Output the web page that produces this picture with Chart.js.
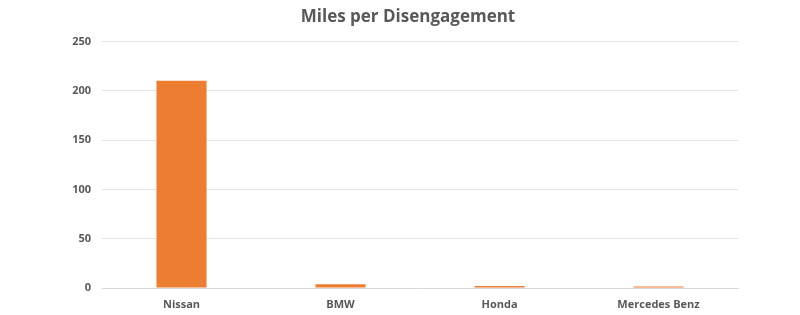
<!DOCTYPE html>
<html>
<head>
<meta charset="utf-8">
<script src="https://cdn.jsdelivr.net/npm/chart.js@4"></script>
<style>
  html, body { margin: 0; padding: 0; background: #fff; }
  #wrap { width: 800px; height: 315px; }
</style>
</head>
<body>
<div id="wrap"><canvas id="myChart"></canvas></div>
<script>
// values
var makers = ["Nissan", "BMW", "Honda", "Mercedes Benz"];
var milesPerDisengagement = [210, 3.8, 2.1, 1.4];
var yTicks = [0, 50, 100, 150, 200, 250];

var grey = "#595959";

var ctx = document.getElementById("myChart").getContext("2d");
var chart = new Chart(ctx, {
  type: "bar",
  data: {
    labels: makers,
    datasets: [
      {
        label: "Miles per Disengagement",
        data: milesPerDisengagement,
        backgroundColor: "#ed7d31",
        categoryPercentage: 1,
        barPercentage: 0.315,
      },
    ],
  },
  options: {
    responsive: true,
    maintainAspectRatio: false,
    animation: false,
    layout: { padding: { left: 16, right: 0, top: 0, bottom: 0 } },
    plugins: {
      legend: { display: false },
      tooltip: { enabled: false },
      title: {
        display: true,
        text: "Miles per Disengagement",
        color: grey,
        font: { family: "'Open Sans', sans-serif", size: 17, weight: "bold" },
        padding: { top: 7, bottom: 14 },
      },
    },
    scales: {
      x: {
        grid: { display: false, drawTicks: false },
        border: { display: true, color: "#d9d9d9" },
        afterFit: function (axis) { axis.height = 27; },
        ticks: {
          color: grey,
          padding: 10,
          font: { family: "'Open Sans', sans-serif", size: 11, weight: "bold" },
        },
      },
      y: {
        min: 0,
        max: 250,
        afterBuildTicks: function (axis) {
          axis.ticks = yTicks.map(function (v) { return { value: v }; });
        },
        afterFit: function (axis) { axis.width = 86; },
        grid: { color: "#e3e3e3", drawTicks: false },
        border: { display: false },
        ticks: {
          color: grey,
          padding: 11,
          font: { family: "'Open Sans', sans-serif", size: 11, weight: "bold" },
        },
      },
      // empty right-hand strip so the title stays centred on the page
      yRight: {
        position: "right",
        afterFit: function (axis) { axis.width = 62; },
        grid: { display: false, drawTicks: false },
        border: { display: false },
        ticks: { display: false },
      },
    },
  },
});
</script>
</body>
</html>
